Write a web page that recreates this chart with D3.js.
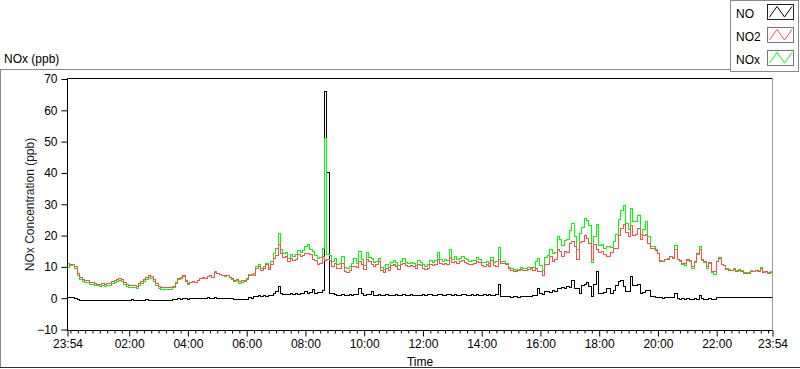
<!DOCTYPE html>
<html><head><meta charset="utf-8">
<script src="https://cdn.jsdelivr.net/npm/d3@7"></script>
<style>
html,body{margin:0;padding:0;background:#fff;}
svg{display:block;font-family:"Liberation Sans",Arial,sans-serif;}
</style></head><body>
<svg id="c" width="800" height="369"></svg>
<script>
// ---------- data ----------
const startLabel = "23:54";      // start of record (previous day)
const stepMinutes = 5;           // sampling step of the arrays below
const xTickLabels = ["23:54","02:00","04:00","06:00","08:00","10:00","12:00","14:00","16:00","18:00","20:00","22:00","23:54"];
const yTickValues = [-10,0,10,20,30,40,50,60,70];
const seriesNames = ["NO","NO2","NOx"];

const NO = [
 0.2,0.1,0.2,-0.2,-0.5,-0.6,-0.6,-0.6,-0.6,-0.6,-0.6,-0.6,
 -0.6,-0.6,-0.6,-0.6,-0.6,-0.6,-0.6,-0.6,-0.6,-0.6,-0.6,-0.6,
 -0.6,-0.6,-0.5,-0.6,-0.6,-0.6,-0.6,-0.6,-0.5,-0.6,-0.6,-0.6,
 -0.6,-0.6,-0.6,-0.6,-0.6,-0.6,-0.6,-0.3,-0.3,-0.2,-0.3,-0.2,
 -0.2,-0.3,-0.1,-0.2,0.0,-0.1,0.0,-0.1,0.0,0.1,-0.1,0.0,
 0.3,0.0,-0.1,0.0,-0.1,0.0,-0.1,-0.2,-0.4,-0.5,-0.5,-0.5,
 -0.5,-0.4,0.3,0.0,0.5,0.6,0.7,0.5,0.8,0.6,0.7,0.9,
 1.6,2.2,3.7,1.4,1.2,1.3,1.1,1.4,1.2,1.5,1.3,1.4,
 1.6,2.2,1.4,1.8,2.7,1.6,1.9,1.7,2.6,66,40,1.6,
 1.6,1.2,1.0,0.8,1.2,1.0,0.9,1.1,1.0,1.3,1.2,3.2,
 1.4,1.0,1.2,1.1,2.2,1.0,0.9,1.1,0.8,1.0,1.2,0.9,
 1.0,0.8,1.1,1.0,0.9,1.2,1.0,0.9,1.1,1.0,0.8,1.0,
 1.0,1.2,0.9,1.1,1.3,0.8,1.0,1.2,1.1,0.9,1.0,1.2,
 1.1,0.9,1.3,1.0,1.0,1.2,1.1,0.9,1.0,1.3,1.0,1.1,
 1.0,0.9,1.2,1.0,1.1,0.9,1.0,1.3,4.4,0.6,0.5,0.4,
 0.4,0.3,0.5,0.4,0.3,0.5,0.4,0.6,0.5,0.4,0.7,1.0,
 3.1,1.5,1.2,2.0,2.2,1.8,2.4,2.0,3.1,3.0,3.3,3.0,
 3.6,3.4,5.8,3.1,3.0,1.5,4.1,4.4,5.0,3.6,0.4,4.4,
 8.4,1.6,1.4,1.8,3.1,3.0,1.5,2.4,4.1,5.4,5.8,3.6,
 2.0,2.2,6.8,4.1,4.0,4.3,1.5,1.8,2.6,2.4,0.4,0.5,
 0.3,0.1,0.2,0.0,0.1,0.2,0.1,0.3,1.4,0.0,-0.3,-0.2,
 -0.3,-0.2,-0.3,-0.3,-0.2,-0.3,1.0,-0.2,-0.3,-0.3,-0.2,-0.3,
 -0.3,0.2,0.3,0.2,0.1,0.2,0.3,0.2,0.2,0.1,0.3,0.2,
 0.2,0.1,0.3,0.2,0.2,0.1,0.3,0.2,0.2,0.1,0.2,0.2,0.1
];
const NO2 = [
 11.1,10.8,10.9,10.0,8.0,6.6,6.1,5.7,5.5,5.0,4.9,4.6,
 4.5,4.3,4.6,4.4,4.8,4.7,5.3,5.6,5.9,6.3,6.0,5.0,
 4.4,4.1,3.9,4.0,3.8,4.6,5.2,5.9,6.6,7.2,6.8,6.0,
 4.8,3.6,3.5,3.5,3.4,3.5,3.5,3.6,5.0,6.3,6.6,7.1,
 5.6,4.8,5.1,5.4,5.0,5.6,6.3,6.5,6.2,6.8,7.4,6.6,
 8.3,7.9,7.6,7.2,7.1,7.4,6.6,6.2,5.6,6.0,5.3,5.5,
 5.8,6.4,7.4,7.6,7.3,9.6,10.2,9.0,9.4,10.6,9.2,10.8,
 12.8,13.6,17.0,14.2,13.0,13.4,11.6,12.6,12.0,12.4,13.8,13.2,
 13.6,14.2,14.4,13.8,12.3,12.0,10.8,11.2,13.2,12.0,12.4,12.0,
 10.0,11.0,9.4,9.6,11.2,8.6,8.3,8.8,10.0,10.2,9.8,11.6,
 10.8,9.2,12.2,11.8,10.6,10.2,10.8,11.6,9.0,8.2,9.4,8.8,
 10.4,10.8,10.2,9.2,10.6,11.0,10.4,10.0,10.3,10.0,9.6,10.8,
 10.4,9.4,9.2,9.6,10.6,10.4,10.8,12.2,11.0,10.6,11.2,10.8,
 13.0,11.4,11.8,11.2,11.6,12.0,11.4,11.2,10.8,10.6,11.0,11.8,
 11.4,10.4,10.2,10.6,10.0,12.0,10.4,10.2,12.4,11.0,11.2,10.6,
 9.4,9.0,8.6,8.4,8.8,9.2,9.0,8.8,9.2,9.4,9.0,9.6,
 8.4,8.6,7.4,10.6,10.8,13.2,11.6,12.2,15.4,15.0,13.2,14.8,
 14.6,17.6,18.2,16.4,12.4,17.8,18.2,20.0,19.0,17.4,12.4,17.0,
 15.4,14.6,15.0,14.0,13.2,13.4,14.6,15.8,16.0,20.0,22.2,23.4,
 21.0,19.6,23.2,20.0,20.4,22.2,18.6,20.0,20.4,17.4,15.8,16.0,
 15.2,14.2,11.6,11.8,12.2,12.4,13.2,12.6,15.4,12.2,12.0,11.2,
 11.0,12.2,12.0,10.0,11.6,14.2,15.4,12.2,11.8,10.0,11.4,8.6,
 8.6,11.6,12.6,10.6,10.4,9.2,9.0,8.8,9.2,8.6,8.8,8.6,
 7.9,8.0,7.8,8.6,8.4,8.8,8.6,9.6,8.2,8.4,8.0,8.2,7.6
];
const NOx = [
 9.8,10.4,10.6,9.6,7.4,6.0,5.4,5.1,4.9,4.4,4.3,4.0,
 3.9,3.7,4.0,3.8,4.2,4.1,4.7,5.0,5.3,5.7,5.4,4.4,
 3.8,3.5,3.4,3.4,3.2,4.0,4.6,5.3,6.0,6.6,6.2,5.4,
 4.2,3.0,2.9,2.9,2.8,2.9,2.9,3.3,4.7,6.1,6.3,6.9,
 5.4,4.5,5.0,5.2,5.0,5.5,6.3,6.4,6.2,6.9,7.3,6.6,
 8.6,7.9,7.5,7.2,7.0,7.4,6.5,6.0,5.2,5.5,4.8,5.0,
 5.3,6.0,7.7,7.6,7.8,10.2,10.9,9.5,10.2,11.2,9.9,11.7,
 14.4,15.8,20.7,15.6,14.2,14.7,12.7,14.0,13.2,13.9,15.1,14.6,
 15.2,16.4,17.0,15.6,15.0,13.6,12.7,12.9,15.8,51,13.8,13.6,
 11.8,12.6,10.6,11.0,13.4,9.8,9.4,10.1,11.2,12.6,11.2,14.8,
 12.4,10.4,14.6,13.0,12.8,11.4,11.8,12.8,9.9,9.3,10.7,9.8,
 11.5,12.0,11.4,10.3,11.6,12.6,11.5,11.0,11.5,11.1,10.5,11.9,
 11.5,10.6,10.1,10.8,12.1,11.3,11.9,14.6,12.2,11.6,12.3,12.1,
 15.4,12.4,13.2,12.3,12.7,13.4,12.6,12.2,11.8,12.0,12.1,13.1,
 12.5,11.4,11.5,11.7,11.2,13.0,11.5,11.6,16.2,11.7,11.8,11.1,
 9.9,9.4,9.2,8.9,9.2,9.8,9.5,9.5,9.8,9.9,9.8,11.6,
 12.8,10.3,8.7,13.0,13.6,15.6,14.2,14.5,19.6,18.8,16.8,18.4,
 18.6,21.6,24.0,19.8,15.6,20.7,22.6,25.4,24.8,23.2,11.4,19.8,
 23.6,16.8,17.0,15.8,16.4,16.4,16.2,18.0,20.2,25.0,28.0,29.6,
 24.0,21.8,28.6,24.6,24.4,26.5,20.2,22.0,24.4,19.8,16.4,16.6,
 15.6,14.3,12.1,11.8,12.3,12.6,13.3,12.9,16.8,12.2,11.6,10.8,
 10.4,11.9,11.7,9.4,11.3,13.9,16.4,11.9,11.5,9.6,11.2,8.2,
 7.6,11.8,12.9,10.8,10.5,9.4,9.3,9.0,9.4,8.7,9.1,8.8,
 8.1,8.1,8.1,8.8,8.6,8.9,8.9,9.8,8.4,8.5,8.2,8.4,7.7
];

// ---------- setup ----------
const svg = d3.select("#c");
const L = 67.5, R = 772.5, T = 78.5, B = 330.5;

const parseHM = s => { const [h,m] = s.split(":").map(Number); return {h,m}; };
const s0 = parseHM(startLabel);
const t0 = new Date(2020,0,1,s0.h,s0.m);
const t1 = d3.timeDay.offset(t0, 1);
const n = Math.min(NO.length, NO2.length, NOx.length);
const times = d3.range(n).map(i => d3.timeMinute.offset(t0, i*stepMinutes));

const x = d3.scaleTime().domain([t0, t1]).range([L, R]);
const y = d3.scaleLinear().domain([-10, 70]).range([B-1, T+0.5]);

// panel frame
const gray = "#8a8a8a";
svg.append("line").attr("x1",0).attr("x2",730.5).attr("y1",69.5).attr("y2",69.5).attr("stroke",gray);
svg.append("line").attr("x1",0.5).attr("x2",0.5).attr("y1",69.5).attr("y2",367.5).attr("stroke",gray);
svg.append("line").attr("x1",0).attr("x2",800).attr("y1",367.5).attr("y2",367.5).attr("stroke","#333");

// title
svg.append("text").attr("x",4).attr("y",63).attr("font-size",12).attr("fill","#000").text("NOx (ppb)");

// plot frame
svg.append("line").attr("x1",L).attr("x2",R).attr("y1",T).attr("y2",T).attr("stroke","#000");
svg.append("line").attr("x1",R).attr("x2",R).attr("y1",T).attr("y2",B).attr("stroke","#999");

// data lines
svg.append("defs").append("clipPath").attr("id","clip")
  .append("rect").attr("x",L).attr("y",T).attr("width",R-L).attr("height",B-T);
const plot = svg.append("g").attr("clip-path","url(#clip)");
const colors = {NO:"#000000", NO2:"#ff4c4c", NOx:"#00ff00"};
const dataBy = {NO, NO2, NOx};
const line = d3.line().x((d,i)=>x(times[i])).y(d=>y(d)).curve(d3.curveStepAfter);
["NO","NOx","NO2"].forEach(k=>{
  plot.append("path").datum(dataBy[k].slice(0,n))
    .attr("d", line).attr("fill","none").attr("stroke",colors[k])
    .attr("stroke-width",1).attr("shape-rendering","crispEdges");
});

// axes
const majorDates = xTickLabels.map((s,i)=>{
  if (i===0) return t0;
  if (i===xTickLabels.length-1) return t1;
  const p = parseHM(s); return new Date(2020,0,2,p.h,p.m);
});
const fmt = d3.timeFormat("%H:%M");
const minorDates = d3.timeMinute.every(15).range(t0, t1)
  .filter(d => !majorDates.some(m => +m === +d));

const xMinor = svg.append("g").attr("transform",`translate(0,${B})`)
  .call(d3.axisBottom(x).tickValues(minorDates).tickSize(3).tickSizeOuter(0).tickFormat(""));
xMinor.select(".domain").remove();

const xAxis = svg.append("g").attr("transform",`translate(0,${B})`)
  .call(d3.axisBottom(x).tickValues(majorDates).tickSize(6).tickPadding(3).tickSizeOuter(0).tickFormat(fmt));
xAxis.select(".domain").remove();
xAxis.selectAll("text").attr("font-size",12).attr("fill","#000").attr("font-family","Liberation Sans, Arial, sans-serif");

const yAxis = svg.append("g").attr("transform",`translate(${L},0)`)
  .call(d3.axisLeft(y).tickValues(yTickValues).tickSize(6).tickPadding(4).tickSizeOuter(0));
yAxis.select(".domain").remove();
yAxis.selectAll("text").attr("font-size",12).attr("fill","#000").attr("font-family","Liberation Sans, Arial, sans-serif");

// axis lines (left & bottom)
svg.append("line").attr("x1",L).attr("x2",L).attr("y1",T).attr("y2",B).attr("stroke","#000");
svg.append("line").attr("x1",L).attr("x2",R).attr("y1",B).attr("y2",B).attr("stroke","#000");

// axis titles
svg.append("text").attr("x",(L+R)/2).attr("y",366).attr("text-anchor","middle")
  .attr("font-size",12).attr("fill","#000").text("Time");
svg.append("text").attr("transform",`translate(34,${(T+B)/2}) rotate(-90)`)
  .attr("text-anchor","middle").attr("font-size",12).attr("fill","#1a1a1a")
  .text("NOx Concentration (ppb)");

// legend
const lg = svg.append("g");
lg.append("rect").attr("x",730.5).attr("y",0.5).attr("width",68).attr("height",71)
  .attr("fill","#fff").attr("stroke",gray);
seriesNames.forEach((name,k)=>{
  const oy = 23*k;
  lg.append("text").attr("x",736).attr("y",17.5+oy).attr("font-size",12).attr("fill","#000").text(name);
  lg.append("rect").attr("x",767.5).attr("y",4.5+oy).attr("width",26).attr("height",15)
    .attr("fill","#fff").attr("stroke", k===0 ? "#222" : "#777");
  lg.append("polyline")
    .attr("points",[[769.5,17+oy],[777,6.5+oy],[784.5,17+oy],[792,6.5+oy]].map(p=>p.join(",")).join(" "))
    .attr("fill","none").attr("stroke",colors[name]).attr("stroke-width",1);
});
</script>
</body></html>
